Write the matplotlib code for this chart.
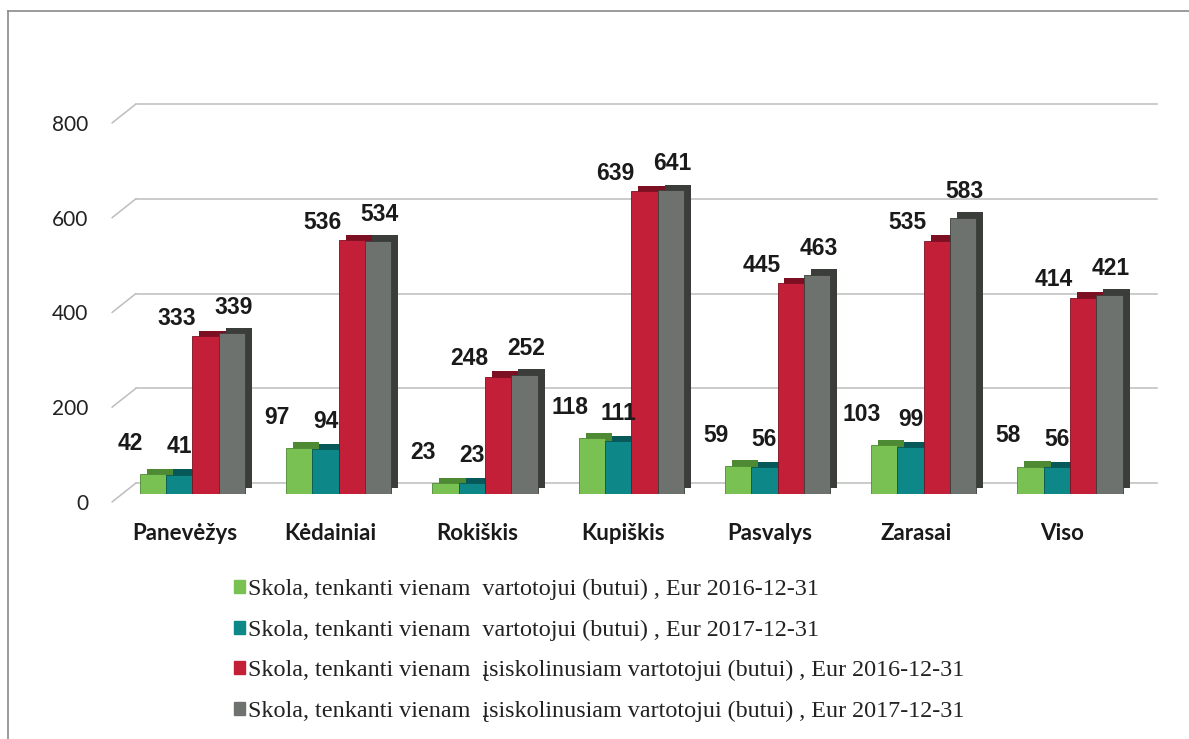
"""Skola, tenkanti vienam vartotojui (butui) pagal savivaldybes, 2016 ir 2017 m.

Pseudo-3D grouped bar chart: four series per municipality, value labels
above the bars, legend in serif type under the plot.

Output: out.png (1189x739 px).
"""

import sys

import matplotlib

matplotlib.use("Agg")  # off-screen rendering, we write the PNG directly
import matplotlib.pyplot as plt
import matplotlib.patheffects as pe
from matplotlib.patches import Patch
from matplotlib.transforms import ScaledTranslation

# --- data ------------------------------------------------------------------
savivaldybes = ["Panevėžys", "Kėdainiai", "Rokiškis", "Kupiškis",
                "Pasvalys", "Zarasai", "Viso"]

skola_2016 = [42, 97, 23, 118, 59, 103, 58]
skola_2017 = [41, 94, 23, 111, 56, 99, 56]
skola_isiskol_2016 = [333, 536, 248, 639, 445, 535, 414]
skola_isiskol_2017 = [339, 534, 252, 641, 463, 583, 421]

serijos = [
    "Skola, tenkanti vienam  vartotojui (butui) , Eur 2016-12-31",
    "Skola, tenkanti vienam  vartotojui (butui) , Eur 2017-12-31",
    "Skola, tenkanti vienam  įsiskolinusiam vartotojui (butui) , Eur 2016-12-31",
    "Skola, tenkanti vienam  įsiskolinusiam vartotojui (butui) , Eur 2017-12-31",
]

y_ticks = [0, 200, 400, 600, 800]

# --- style -----------------------------------------------------------------
SPALVOS = ["#79c153", "#0d8787", "#c41f38", "#6e726e"]
SESELIAI = ["#4e8a33", "#075858", "#7c1022", "#3a3d3a"]  # side/top faces
# label offset (points) relative to the top centre of each bar, per series
ETIKECIU_POSLINKIS = [(-16, 22), (0, 20), (-21, 13), (1, 19)]
PLOTIS = 0.18
PX = 72 / 100  # one pixel in points (dpi 100)


def decalage(fig, dx_px, dy_px):
    """Pixel offset transform (used for the pseudo-3D depth)."""
    return ScaledTranslation(dx_px / 100, dy_px / 100, fig.dpi_scale_trans)


def tracer_graphique() -> None:
    fig = plt.figure(figsize=(11.89, 7.39), dpi=100)

    # outer frame of the scanned chart (top and left edges only)
    fig.add_artist(plt.Line2D([8 / 1189, 8 / 1189], [0, 1 - 11 / 739],
                              color="#8a8a8a", lw=1.2))
    fig.add_artist(plt.Line2D([8 / 1189, 1], [1 - 11 / 739, 1 - 11 / 739],
                              color="#8a8a8a", lw=1.2))

    ax = fig.add_axes([112 / 1189, 245 / 739, 1021 / 1189, 379 / 739])
    ax.set_xlim(-0.55, 6.43)
    ax.set_ylim(0, 800)

    # back wall gridlines, shifted up/right to mimic the 3D depth,
    # plus the short diagonal floor/side line at the left of each one
    ytr = ax.get_yaxis_transform()
    for v in y_ticks:
        ax.plot([0, 1], [v, v], color="#bdbdbd", lw=1.1,
                transform=ytr + decalage(fig, 24, 11), clip_on=False,
                zorder=0)
        ax.annotate("", xy=(0, v), xycoords=ytr + decalage(fig, 0, -8),
                    xytext=(24 * PX, 19 * PX), textcoords="offset points",
                    arrowprops=dict(arrowstyle="-", color="#bdbdbd", lw=1.1,
                                    shrinkA=0, shrinkB=0),
                    annotation_clip=False)

    x = list(range(len(savivaldybes)))
    valeurs = [skola_2016, skola_2017, skola_isiskol_2016, skola_isiskol_2017]
    for i, vals in enumerate(valeurs):
        pos = [xi + (i - 1.5) * PLOTIS for xi in x]
        bars = ax.bar(pos, vals, width=PLOTIS, color=SPALVOS[i],
                      edgecolor=SESELIAI[i], linewidth=0.6, zorder=2 + i)
        for b in bars:
            b.set_path_effects([
                pe.SimplePatchShadow(offset=(5, 4), shadow_rgbFace=SESELIAI[i],
                                     alpha=1.0, rho=1.0),
                pe.Normal(),
            ])
        dx, dy = ETIKECIU_POSLINKIS[i]
        for p, v in zip(pos, vals):
            ax.annotate(str(v), xy=(p, v), xytext=(dx, dy),
                        textcoords="offset points", ha="center", va="center",
                        fontsize=16.5, fontweight="bold", color="#1a1a1a",
                        family="Liberation Sans", zorder=10)

    ax.set_yticks(y_ticks)
    ax.set_yticklabels([str(v) for v in y_ticks], fontsize=15,
                       family="Lato", color="#222222")
    ax.set_xticks(x)
    ax.set_xticklabels(savivaldybes, fontsize=16, fontweight="bold",
                       family="Lato", color="#1a1a1a")
    ax.tick_params(axis="y", length=0, pad=24 * PX)
    ax.tick_params(axis="x", length=0, pad=29 * PX)
    # front edge of the floor is a little below the bars' base
    for lab in ax.get_yticklabels():
        lab.set_transform(lab.get_transform() + decalage(fig, 0, -8))
    for lab in ax.get_xticklabels():
        lab.set_transform(lab.get_transform() + decalage(fig, -8, 0))
    for s in ax.spines.values():
        s.set_visible(False)
    ax.patch.set_alpha(0)

    poignees = [Patch(facecolor=c, edgecolor=c) for c in SPALVOS]
    fig.legend(poignees, serijos, loc="upper left",
               bbox_to_anchor=(222 / 1189, 1 - 567 / 739), frameon=False,
               prop={"family": "Liberation Serif", "size": 17.4},
               handlelength=0.47, handleheight=0.47, handletextpad=0.12,
               labelspacing=0.8, labelcolor="#222222", borderpad=0)

    fig.savefig("out.png", dpi=100)
    plt.close(fig)


def main() -> int:
    tracer_graphique()
    return 0


if __name__ == "__main__":
    sys.exit(main())
